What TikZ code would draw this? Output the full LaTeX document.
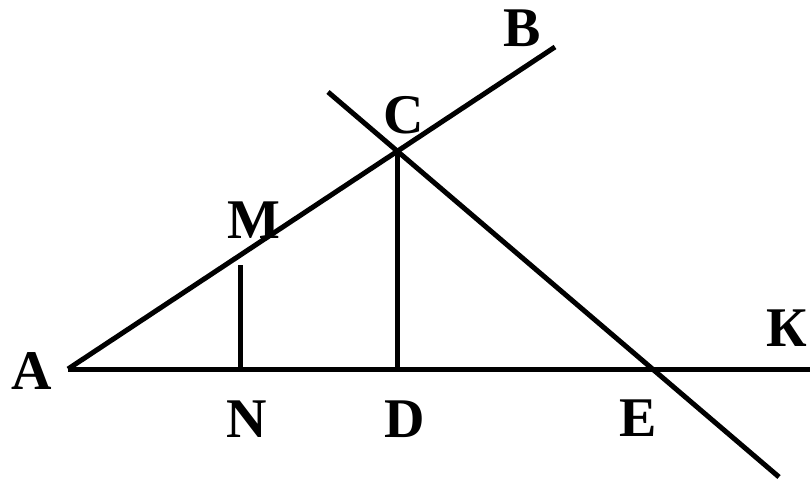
\documentclass[tikz,border=0pt]{standalone}
\usepackage{fontspec}
\setmainfont{Liberation Serif}
\begin{document}
\begin{tikzpicture}[x=1pt,y=-1pt,
  seg/.style={line width=5pt},
  lbl/.style={font=\fontsize{56}{56}\selectfont\bfseries, inner sep=0pt, anchor=center}]
\useasboundingbox (0,0) rectangle (810,486);
\coordinate (A) at (68,369);
\coordinate (K) at (810,369);
\coordinate (Bend) at (555,47);
\coordinate (Ltop) at (328,92);
\coordinate (Lbot) at (779,477);
\coordinate (C) at (397,150.5);
\coordinate (D) at (397,369);
\coordinate (Mtop) at (240,265);
\coordinate (N) at (240,369);
\draw[seg] (A) -- (K);
\draw[seg] (A) -- (Bend);
\draw[seg] (Ltop) -- (Lbot);
\draw[seg] (C) -- (D);
\draw[seg] (Mtop) -- (N);
\node[lbl] (lA) at (32,371) {A};
\node[lbl] (lB) at (522,28) {B};
\node[lbl] (lC) at (404,115) {C};
\node[lbl] (lM) at (254,220) {M};
\node[lbl] (lK) at (787,328) {К};
\node[lbl] (lN) at (247,419) {N};
\node[lbl] (lD) at (405,419) {D};
\node[lbl] (lE) at (638,418) {E};
\end{tikzpicture}
\end{document}
